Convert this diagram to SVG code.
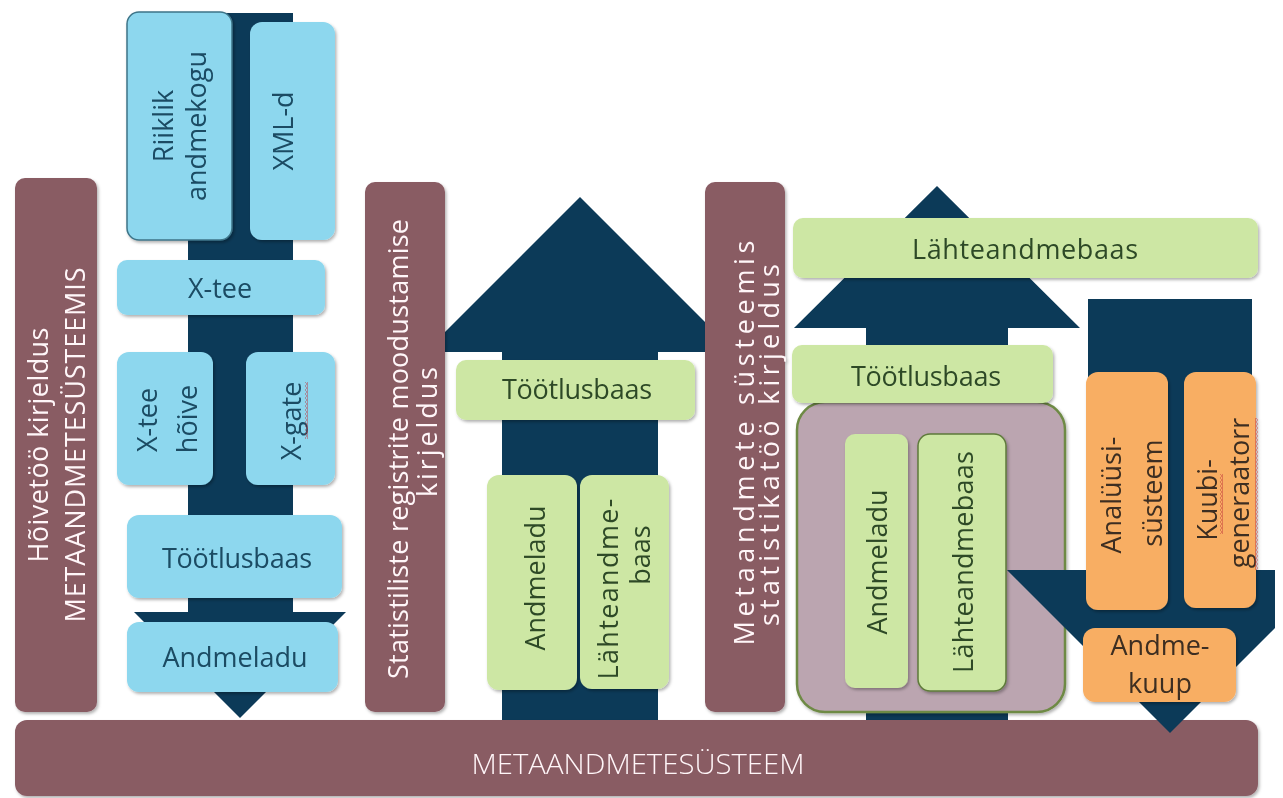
<svg xmlns="http://www.w3.org/2000/svg" width="1283" height="798" viewBox="0 0 1283 798">
<style>
text{font-family:"Open Sans","Noto Sans",sans-serif;text-anchor:middle;font-size:27px}
.tb{fill:#1A4B63}
.tg{fill:#2D4A27}
.to{fill:#3E2E20}
.tw{fill:#FFF6F8}
.blue{fill:#8DD7EE}
.green{fill:#CDE7A4}
.orange{fill:#F8AE63}
.maroon{fill:#895B64}
.arrow{fill:#0C3A58}
.box{filter:url(#sh)}
</style>
<defs>
<filter id="sh" x="-10%" y="-10%" width="125%" height="125%">
<feDropShadow dx="1.5" dy="2" stdDeviation="1.5" flood-color="#000" flood-opacity="0.3"/>
</filter>
<pattern id="wavy" width="3" height="4" patternUnits="userSpaceOnUse">
<path d="M0.5,0 L2.5,2 L0.5,4" fill="none" stroke="#C0303A" stroke-width="0.9"/>
</pattern>
</defs>
<rect width="1283" height="798" fill="#FFFFFF"/>

<g id="connectors">
<polygon class="arrow" points="188,13 293,13 293,612 346,612 240,718 134,612 188,612"/>
<polygon class="arrow" points="502,720 658,720 658,352 735,352 580,197 425,352 502,352"/>
<polygon class="arrow" points="866,720 1008,720 1008,328 1080,328 937,186 794,328 866,328"/>
</g>

<g id="bar-hoive" class="box">
<rect class="maroon" x="15" y="178" width="82" height="534" rx="10"/>
<text class="tw" transform="translate(48,445) rotate(-90)" textLength="235" lengthAdjust="spacing">Hõivetöö kirjeldus</text>
<text class="tw" transform="translate(85,445) rotate(-90)" textLength="355" lengthAdjust="spacing">METAANDMETESÜSTEEMIS</text>
</g>

<g id="bar-statreg" class="box">
<rect class="maroon" x="365" y="182" width="80" height="530" rx="10"/>
<text class="tw" transform="translate(408,449) rotate(-90)" textLength="460" lengthAdjust="spacing">Statistiliste registrite moodustamise</text>
<text class="tw" transform="translate(437,432) rotate(-90)" textLength="130" lengthAdjust="spacing">kirjeldus</text>
</g>

<g id="bar-metastat" class="box">
<rect class="maroon" x="705" y="182" width="80" height="530" rx="10"/>
<text class="tw" font-size="28" transform="translate(754,443) rotate(-90)" textLength="405" lengthAdjust="spacing">Metaandmete süsteemis</text>
<text class="tw" font-size="28" transform="translate(779,445) rotate(-90)" textLength="362" lengthAdjust="spacing">statistikatöö kirjeldus</text>
</g>

<g id="metaandmetesusteem" class="box">
<rect class="maroon" x="15" y="720" width="1243" height="76" rx="12"/>
<text class="tw" x="638" y="774" font-size="30" font-weight="300" textLength="333" lengthAdjust="spacingAndGlyphs">METAANDMETESÜSTEEM</text>
</g>

<g id="container" class="box">
<rect x="797" y="402" width="268" height="310" rx="28" fill="#BBA5B0" stroke="#6E8A45" stroke-width="2.5"/>
</g>

<g id="connectors-front">
<polygon class="arrow" points="1088,299 1252,299 1252,570 1275,570 1275,628 1170,733 1007,570 1088,570"/>
</g>

<g id="riiklik-andmekogu" class="box">
<rect class="blue" x="127" y="12" width="105" height="228" rx="12" stroke="#3E7488" stroke-width="1.5"/>
<text class="tb" transform="translate(173,126) rotate(-90)">Riiklik</text>
<text class="tb" transform="translate(206,126) rotate(-90)">andmekogu</text>
</g>

<g id="xml-d" class="box">
<rect class="blue" x="250" y="22" width="85" height="218" rx="12"/>
<text class="tb" transform="translate(293,131) rotate(-90)">XML-d</text>
</g>

<g id="x-tee" class="box">
<rect class="blue" x="117" y="260" width="208" height="55" rx="10"/>
<text class="tb" x="220" y="298">X-tee</text>
</g>

<g id="x-tee-hoive" class="box">
<rect class="blue" x="117" y="352" width="96" height="133" rx="12"/>
<text class="tb" transform="translate(157,420) rotate(-90)">X-tee</text>
<text class="tb" transform="translate(197,419) rotate(-90)">hõive</text>
</g>

<g id="x-gate" class="box">
<rect class="blue" x="246" y="352" width="89" height="133" rx="12"/>
<text class="tb" transform="translate(301,421) rotate(-90)">X-gate</text>
<rect x="305" y="382" width="3" height="57" fill="url(#wavy)"/>
</g>

<g id="tootlusbaas-1" class="box">
<rect class="blue" x="127" y="515" width="215" height="83" rx="12"/>
<text class="tb" x="237" y="568" textLength="150" lengthAdjust="spacing">Töötlusbaas</text>
</g>

<g id="andmeladu-1" class="box">
<rect class="blue" x="127" y="622" width="211" height="70" rx="12"/>
<text class="tb" x="235" y="667">Andmeladu</text>
</g>

<g id="tootlusbaas-2" class="box">
<rect class="green" x="456" y="360" width="239" height="60" rx="10"/>
<text class="tg" x="577" y="399" textLength="150" lengthAdjust="spacing">Töötlusbaas</text>
</g>

<g id="andmeladu-2" class="box">
<rect class="green" x="487" y="475" width="90" height="215" rx="12"/>
<text class="tg" transform="translate(545,578) rotate(-90)">Andmeladu</text>
</g>

<g id="lahteandmebaas-2" class="box">
<rect class="green" x="580" y="475" width="89" height="214" rx="12"/>
<text class="tg" transform="translate(618,589) rotate(-90)" textLength="181" lengthAdjust="spacing">Lähteandme-</text>
<text class="tg" transform="translate(650,555) rotate(-90)">baas</text>
</g>

<g id="lahteandmebaas-top" class="box">
<rect class="green" x="793" y="218" width="465" height="60" rx="10"/>
<text class="tg" x="1025" y="259" textLength="226" lengthAdjust="spacing">Lähteandmebaas</text>
</g>

<g id="tootlusbaas-3" class="box">
<rect class="green" x="792" y="345" width="261" height="58" rx="10"/>
<text class="tg" x="926" y="386" textLength="150" lengthAdjust="spacing">Töötlusbaas</text>
</g>

<g id="andmeladu-3" class="box">
<rect class="green" x="845" y="434" width="63" height="254" rx="10"/>
<text class="tg" transform="translate(887,562) rotate(-90)">Andmeladu</text>
</g>

<g id="lahteandmebaas-3" class="box">
<rect class="green" x="918" y="434" width="88" height="257" rx="12" stroke="#5E7A3A" stroke-width="1.5"/>
<text class="tg" transform="translate(973,562) rotate(-90)" textLength="222" lengthAdjust="spacing">Lähteandmebaas</text>
</g>

<g id="analuusisusteem" class="box">
<rect class="orange" x="1086" y="372" width="82" height="238" rx="12"/>
<text class="to" transform="translate(1121,495) rotate(-90)">Analüüsi-</text>
<text class="to" transform="translate(1162,493) rotate(-90)">süsteem</text>
</g>

<g id="kuubigeneraator" class="box">
<rect class="orange" x="1184" y="372" width="72" height="236" rx="12"/>
<text class="to" transform="translate(1217,500) rotate(-90)">Kuubi-</text>
<text class="to" transform="translate(1249,493) rotate(-90)">generaatorr</text>
<rect x="1220" y="474" width="3" height="60" fill="url(#wavy)"/>
<rect x="1255" y="418" width="3" height="152" fill="url(#wavy)"/>
</g>

<g id="andmekuup" class="box">
<rect class="orange" x="1083" y="628" width="153" height="74" rx="12"/>
<text class="to" x="1160" y="655">Andme-</text>
<text class="to" x="1160" y="693">kuup</text>
</g>
</svg>
